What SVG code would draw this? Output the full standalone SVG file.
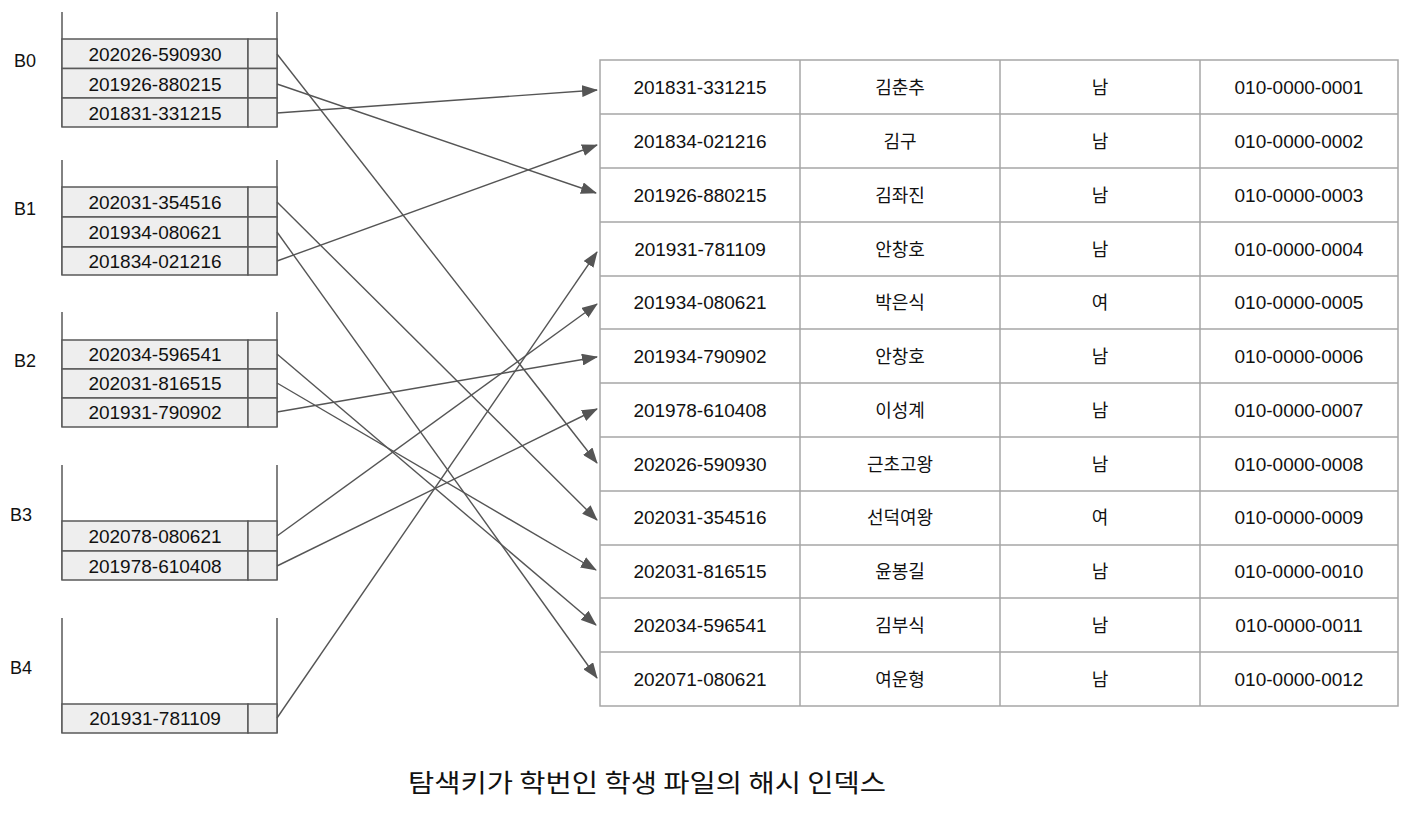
<svg xmlns="http://www.w3.org/2000/svg" width="1412" height="813" viewBox="0 0 1412 813">
<defs>
<style>
.bk{fill:none;stroke:#595959;stroke-width:1.5}
.cell{fill:#eeeeee;stroke:#595959;stroke-width:1.5}
.t{font-family:"Liberation Sans",Arial,sans-serif;font-size:19px;fill:#111;text-anchor:middle}
.k{font-family:"Liberation Sans","Noto Sans CJK KR",sans-serif;font-size:18px;fill:#111;text-anchor:middle}
.lb{font-family:"Liberation Sans",Arial,sans-serif;font-size:18px;fill:#111}
.grid{fill:none;stroke:#a6a6a6;stroke-width:1.5}
.c{stroke:#555555;stroke-width:1.4;fill:none;marker-end:url(#ah)}
</style>
<marker id="ah" markerWidth="16" markerHeight="12" refX="15" refY="6" orient="auto" markerUnits="userSpaceOnUse">
<path d="M0,0 L16,6 L0,12 Z" fill="#555555"/>
</marker>
</defs>
<rect width="1412" height="813" fill="#ffffff"/>

<g id="B0">
<text class="lb" x="14" y="67">B0</text>
<path class="bk" d="M62,12 V127 M277,12 V127"/>
<rect class="cell" x="62" y="39" width="186" height="29.5"/><rect class="cell" x="248" y="39" width="29" height="29.5"/>
<rect class="cell" x="62" y="68.5" width="186" height="29.5"/><rect class="cell" x="248" y="68.5" width="29" height="29.5"/>
<rect class="cell" x="62" y="98" width="186" height="29"/><rect class="cell" x="248" y="98" width="29" height="29"/>
<text class="t" x="155" y="61">202026-590930</text>
<text class="t" x="155" y="90.5">201926-880215</text>
<text class="t" x="155" y="119.5">201831-331215</text>
</g>

<g id="B1">
<text class="lb" x="14" y="215">B1</text>
<path class="bk" d="M62,160 V275 M277,160 V275"/>
<rect class="cell" x="62" y="187" width="186" height="30"/><rect class="cell" x="248" y="187" width="29" height="30"/>
<rect class="cell" x="62" y="217" width="186" height="30"/><rect class="cell" x="248" y="217" width="29" height="30"/>
<rect class="cell" x="62" y="247" width="186" height="28"/><rect class="cell" x="248" y="247" width="29" height="28"/>
<text class="t" x="155" y="209">202031-354516</text>
<text class="t" x="155" y="239">201934-080621</text>
<text class="t" x="155" y="268">201834-021216</text>
</g>

<g id="B2">
<text class="lb" x="14" y="367">B2</text>
<path class="bk" d="M62,312 V427 M277,312 V427"/>
<rect class="cell" x="62" y="340" width="186" height="29"/><rect class="cell" x="248" y="340" width="29" height="29"/>
<rect class="cell" x="62" y="369" width="186" height="29"/><rect class="cell" x="248" y="369" width="29" height="29"/>
<rect class="cell" x="62" y="398" width="186" height="29"/><rect class="cell" x="248" y="398" width="29" height="29"/>
<text class="t" x="155" y="361">202034-596541</text>
<text class="t" x="155" y="390">202031-816515</text>
<text class="t" x="155" y="419">201931-790902</text>
</g>

<g id="B3">
<text class="lb" x="10" y="521">B3</text>
<path class="bk" d="M62,465 V580 M277,465 V580"/>
<rect class="cell" x="62" y="521" width="186" height="30"/><rect class="cell" x="248" y="521" width="29" height="30"/>
<rect class="cell" x="62" y="551" width="186" height="29"/><rect class="cell" x="248" y="551" width="29" height="29"/>
<text class="t" x="155" y="543">202078-080621</text>
<text class="t" x="155" y="572.5">201978-610408</text>
</g>

<g id="B4">
<text class="lb" x="10" y="674">B4</text>
<path class="bk" d="M62,618 V733 M277,618 V733"/>
<rect class="cell" x="62" y="704" width="186" height="29"/><rect class="cell" x="248" y="704" width="29" height="29"/>
<text class="t" x="155" y="725">201931-781109</text>
</g>

<g id="table">
<rect class="grid" x="600" y="60" width="798" height="646"/>
<path class="grid" d="M800,60 V706 M1000,60 V706 M1200,60 V706
M600,114 H1398 M600,168 H1398 M600,222 H1398 M600,276 H1398 M600,329 H1398 M600,383 H1398
M600,437 H1398 M600,491 H1398 M600,545 H1398 M600,598 H1398 M600,652 H1398"/>
<g id="r1"><text class="t" x="700" y="94">201831-331215</text><text class="k" x="900" y="94">김춘추</text><text class="k" x="1100" y="94">남</text><text class="t" x="1299" y="94">010-0000-0001</text></g>
<g id="r2"><text class="t" x="700" y="148">201834-021216</text><text class="k" x="900" y="148">김구</text><text class="k" x="1100" y="148">남</text><text class="t" x="1299" y="148">010-0000-0002</text></g>
<g id="r3"><text class="t" x="700" y="202">201926-880215</text><text class="k" x="900" y="202">김좌진</text><text class="k" x="1100" y="202">남</text><text class="t" x="1299" y="202">010-0000-0003</text></g>
<g id="r4"><text class="t" x="700" y="256">201931-781109</text><text class="k" x="900" y="256">안창호</text><text class="k" x="1100" y="256">남</text><text class="t" x="1299" y="256">010-0000-0004</text></g>
<g id="r5"><text class="t" x="700" y="309">201934-080621</text><text class="k" x="900" y="309">박은식</text><text class="k" x="1100" y="309">여</text><text class="t" x="1299" y="309">010-0000-0005</text></g>
<g id="r6"><text class="t" x="700" y="363">201934-790902</text><text class="k" x="900" y="363">안창호</text><text class="k" x="1100" y="363">남</text><text class="t" x="1299" y="363">010-0000-0006</text></g>
<g id="r7"><text class="t" x="700" y="417">201978-610408</text><text class="k" x="900" y="417">이성계</text><text class="k" x="1100" y="417">남</text><text class="t" x="1299" y="417">010-0000-0007</text></g>
<g id="r8"><text class="t" x="700" y="471">202026-590930</text><text class="k" x="900" y="471">근초고왕</text><text class="k" x="1100" y="471">남</text><text class="t" x="1299" y="471">010-0000-0008</text></g>
<g id="r9"><text class="t" x="700" y="524">202031-354516</text><text class="k" x="900" y="524">선덕여왕</text><text class="k" x="1100" y="524">여</text><text class="t" x="1299" y="524">010-0000-0009</text></g>
<g id="r10"><text class="t" x="700" y="578">202031-816515</text><text class="k" x="900" y="578">윤봉길</text><text class="k" x="1100" y="578">남</text><text class="t" x="1299" y="578">010-0000-0010</text></g>
<g id="r11"><text class="t" x="700" y="632">202034-596541</text><text class="k" x="900" y="632">김부식</text><text class="k" x="1100" y="632">남</text><text class="t" x="1299" y="632">010-0000-0011</text></g>
<g id="r12"><text class="t" x="700" y="686">202071-080621</text><text class="k" x="900" y="686">여운형</text><text class="k" x="1100" y="686">남</text><text class="t" x="1299" y="686">010-0000-0012</text></g>
</g>

<g id="connectors">
<line class="c" x1="277" y1="54" x2="597" y2="463"/>
<line class="c" x1="277" y1="84" x2="596" y2="193"/>
<line class="c" x1="277" y1="113" x2="597" y2="90"/>
<line class="c" x1="277" y1="202" x2="597" y2="520"/>
<line class="c" x1="277" y1="232" x2="597" y2="678"/>
<line class="c" x1="277" y1="261" x2="597" y2="145"/>
<line class="c" x1="277" y1="354" x2="596" y2="625"/>
<line class="c" x1="277" y1="383" x2="596" y2="570"/>
<line class="c" x1="277" y1="412" x2="597" y2="357"/>
<line class="c" x1="277" y1="536" x2="597" y2="304"/>
<line class="c" x1="277" y1="566" x2="597" y2="409"/>
<line class="c" x1="277" y1="718" x2="597" y2="252"/>
</g>

<g id="title">
<text x="408" y="792" textLength="478" lengthAdjust="spacingAndGlyphs" style="font-family:'Noto Sans CJK KR',sans-serif;font-size:25px;fill:#111">탐색키가 학번인 학생 파일의 해시 인덱스</text>
</g>
</svg>
